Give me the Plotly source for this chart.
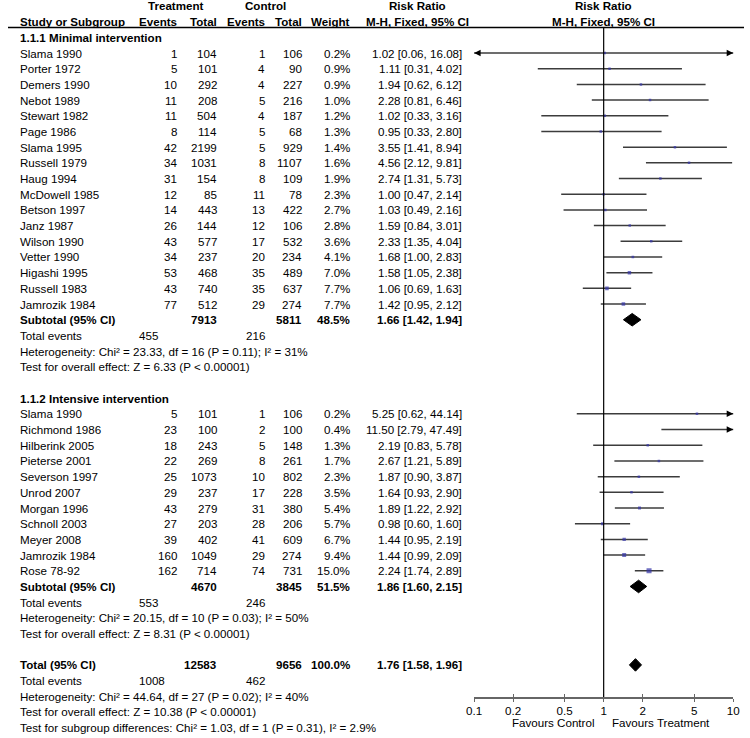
import plotly.graph_objects as go
import math

# ---------------- data ----------------
g1_name = "1.1.1 Minimal intervention"
g1_study = ["Slama 1990", "Porter 1972", "Demers 1990", "Nebot 1989", "Stewart 1982", "Page 1986",
            "Slama 1995", "Russell 1979", "Haug 1994", "McDowell 1985", "Betson 1997", "Janz 1987",
            "Wilson 1990", "Vetter 1990", "Higashi 1995", "Russell 1983", "Jamrozik 1984"]
g1_ev_t = [1, 5, 10, 11, 11, 8, 42, 34, 31, 12, 14, 26, 43, 34, 53, 43, 77]
g1_n_t = [104, 101, 292, 208, 504, 114, 2199, 1031, 154, 85, 443, 144, 577, 237, 468, 740, 512]
g1_ev_c = [1, 4, 4, 5, 4, 5, 5, 8, 8, 11, 13, 12, 17, 20, 35, 35, 29]
g1_n_c = [106, 90, 227, 216, 187, 68, 929, 1107, 109, 78, 422, 106, 532, 234, 489, 637, 274]
g1_w = [0.2, 0.9, 0.9, 1.0, 1.2, 1.3, 1.4, 1.6, 1.9, 2.3, 2.7, 2.8, 3.6, 4.1, 7.0, 7.7, 7.7]
g1_rr = [1.02, 1.11, 1.94, 2.28, 1.02, 0.95, 3.55, 4.56, 2.74, 1.00, 1.03, 1.59, 2.33, 1.68, 1.58, 1.06, 1.42]
g1_lo = [0.06, 0.31, 0.62, 0.81, 0.33, 0.33, 1.41, 2.12, 1.31, 0.47, 0.49, 0.84, 1.35, 1.00, 1.05, 0.69, 0.95]
g1_hi = [16.08, 4.02, 6.12, 6.46, 3.16, 2.80, 8.94, 9.81, 5.73, 2.14, 2.16, 3.01, 4.04, 2.83, 2.38, 1.63, 2.12]
g1_sub = dict(n_t=7913, n_c=5811, w="48.5%", rr=1.66, lo=1.42, hi=1.94, ev_t=455, ev_c=216,
              het="Heterogeneity: Chi² = 23.33, df = 16 (P = 0.11); I² = 31%",
              test="Test for overall effect: Z = 6.33 (P &lt; 0.00001)")

g2_name = "1.1.2 Intensive intervention"
g2_study = ["Slama 1990", "Richmond 1986", "Hilberink 2005", "Pieterse 2001", "Severson 1997", "Unrod 2007",
            "Morgan 1996", "Schnoll 2003", "Meyer 2008", "Jamrozik 1984", "Rose 78-92"]
g2_ev_t = [5, 23, 18, 22, 25, 29, 43, 27, 39, 160, 162]
g2_n_t = [101, 100, 243, 269, 1073, 237, 279, 203, 402, 1049, 714]
g2_ev_c = [1, 2, 5, 8, 10, 17, 31, 28, 41, 29, 74]
g2_n_c = [106, 100, 148, 261, 802, 228, 380, 206, 609, 274, 731]
g2_w = [0.2, 0.4, 1.3, 1.7, 2.3, 3.5, 5.4, 5.7, 6.7, 9.4, 15.0]
g2_rr = [5.25, 11.50, 2.19, 2.67, 1.87, 1.64, 1.89, 0.98, 1.44, 1.44, 2.24]
g2_lo = [0.62, 2.79, 0.83, 1.21, 0.90, 0.93, 1.22, 0.60, 0.95, 0.99, 1.74]
g2_hi = [44.14, 47.49, 5.78, 5.89, 3.87, 2.90, 2.92, 1.60, 2.19, 2.09, 2.89]
g2_sub = dict(n_t=4670, n_c=3845, w="51.5%", rr=1.86, lo=1.60, hi=2.15, ev_t=553, ev_c=246,
              het="Heterogeneity: Chi² = 20.15, df = 10 (P = 0.03); I² = 50%",
              test="Test for overall effect: Z = 8.31 (P &lt; 0.00001)")

tot = dict(n_t=12583, n_c=9656, w="100.0%", rr=1.76, lo=1.58, hi=1.96, ev_t=1008, ev_c=462,
           het="Heterogeneity: Chi² = 44.64, df = 27 (P = 0.02); I² = 40%",
           test="Test for overall effect: Z = 10.38 (P &lt; 0.00001)",
           sub="Test for subgroup differences: Chi² = 1.03, df = 1 (P = 0.31), I² = 2.9%")

tick_vals = [0.1, 0.2, 0.5, 1, 2, 5, 10]
tick_text = ["0.1", "0.2", "0.5", "1", "2", "5", "10"]
x_min, x_max = 0.1, 10

# ---------------- layout constants ----------------
W, H = 750, 738
ROW_PX = 15.69
ROW2_PX = 53.0         # pixel of row index 2
FONT = "Liberation Sans, Arial, sans-serif"
FS = 11.6
COL = dict(name=10, ev_t=174, n_t=215, ev_c=264, n_c=302, w=351, rr=465,
           tot_ev_t=131, treat_c=171, ctrl_c=262, rrhdr_c=417, plot_c=607,
           fav_l=599, fav_r=613)
PLOT_L, PLOT_R = 475, 739
AXIS_PX = 697
HLINE_PX = 27.5

def row_of_px(p):
    return 2 + (p - ROW2_PX) / ROW_PX

y_top = row_of_px(0)
y_bot = row_of_px(H)

annotations = []

def txt(text, xpx, row, anchor="left", bold=False):
    annotations.append(dict(
        text=f"<b>{text}</b>" if bold else text,
        x=xpx / W, xref="paper", y=row, yref="y",
        xanchor=anchor, yanchor="middle", showarrow=False,
        font=dict(family=FONT, size=FS, color="black")))

def fmt_rr(rr, lo, hi):
    return f"{rr:.2f} [{lo:.2f}, {hi:.2f}]"

# headers
txt("Treatment", COL["treat_c"], -1, "center", True)
txt("Control", COL["ctrl_c"], -1, "center", True)
txt("Risk Ratio", COL["rrhdr_c"], -1, "center", True)
txt("Risk Ratio", COL["plot_c"], -1, "center", True)
txt("Study or Subgroup", COL["name"], 0, "left", True)
txt("Events", COL["ev_t"], 0, "right", True)
txt("Total", COL["n_t"], 0, "right", True)
txt("Events", COL["ev_c"], 0, "right", True)
txt("Total", COL["n_c"], 0, "right", True)
txt("Weight", COL["w"], 0, "right", True)
txt("M-H, Fixed, 95% CI", COL["rrhdr_c"], 0, "center", True)
txt("M-H, Fixed, 95% CI", COL["plot_c"], 0, "center", True)

fig = go.Figure()

ci_color = "#3c3c3c"
sq_color = "#3535a8"

def add_summary(label, s, r):
    txt(label, COL["name"], r, "left", True)
    txt(str(s["n_t"]), COL["n_t"], r, "right", True)
    txt(str(s["n_c"]), COL["n_c"], r, "right", True)
    txt(s["w"], COL["w"], r, "right", True)
    txt(fmt_rr(s["rr"], s["lo"], s["hi"]), COL["rr"], r, "right", True)
    txt("Total events", COL["name"], r + 1)
    txt(str(s["ev_t"]), COL["tot_ev_t"], r + 1, "left")
    txt(str(s["ev_c"]), COL["ev_c"], r + 1, "right")
    hh = 0.40
    fig.add_trace(go.Scatter(x=[s["lo"], s["rr"], s["hi"], s["rr"], s["lo"]],
                             y=[r, r - hh, r, r + hh, r], mode="lines", fill="toself",
                             fillcolor="black", line=dict(color="black", width=1),
                             hoverinfo="skip", showlegend=False))

def add_group(name, study, ev_t, n_t, ev_c, n_c, w, rr, lo, hi, sub, start_row):
    txt(name, COL["name"], start_row, "left", True)
    rows = []
    for k in range(len(study)):
        r = start_row + 1 + k
        rows.append(r)
        txt(study[k], COL["name"], r)
        txt(str(ev_t[k]), COL["ev_t"], r, "right")
        txt(str(n_t[k]), COL["n_t"], r, "right")
        txt(str(ev_c[k]), COL["ev_c"], r, "right")
        txt(str(n_c[k]), COL["n_c"], r, "right")
        txt(f"{w[k]:.1f}%", COL["w"], r, "right")
        txt(fmt_rr(rr[k], lo[k], hi[k]), COL["rr"], r, "right")
        fig.add_trace(go.Scatter(x=[lo[k], hi[k]], y=[r, r], mode="lines",
                                 line=dict(color=ci_color, width=1.5), hoverinfo="skip", showlegend=False))
        if hi[k] > x_max:
            fig.add_trace(go.Scatter(x=[x_max], y=[r], mode="markers", cliponaxis=False,
                                     marker=dict(symbol="arrow-right", size=6.5, color="black",
                                                 line=dict(width=0)),
                                     hoverinfo="skip", showlegend=False))
        if lo[k] < x_min:
            fig.add_trace(go.Scatter(x=[x_min], y=[r], mode="markers", cliponaxis=False,
                                     marker=dict(symbol="arrow-left", size=6.5, color="black",
                                                 line=dict(width=0)),
                                     hoverinfo="skip", showlegend=False))
    fig.add_trace(go.Scatter(x=rr, y=rows, mode="markers",
                             marker=dict(symbol="square", color=sq_color,
                                         size=[max(2.5, 1.3 * math.sqrt(v)) for v in w], line=dict(width=0)),
                             hoverinfo="skip", showlegend=False))
    sr = start_row + 1 + len(study)
    add_summary("Subtotal (95% CI)", sub, sr)
    txt(sub["het"], COL["name"], sr + 2)
    txt(sub["test"], COL["name"], sr + 3)
    return sr + 3

end1 = add_group(g1_name, g1_study, g1_ev_t, g1_n_t, g1_ev_c, g1_n_c, g1_w, g1_rr, g1_lo, g1_hi, g1_sub, 1)
end2 = add_group(g2_name, g2_study, g2_ev_t, g2_n_t, g2_ev_c, g2_n_c, g2_w, g2_rr, g2_lo, g2_hi, g2_sub, end1 + 2)
tr = end2 + 2
add_summary("Total (95% CI)", tot, tr)
txt(tot["het"], COL["name"], tr + 2)
txt(tot["test"], COL["name"], tr + 3)
txt(tot["sub"], COL["name"], tr + 4)

fav_row = row_of_px(722)
txt("Favours Control", COL["fav_l"], fav_row, "right")
txt("Favours Treatment", COL["fav_r"], fav_row, "left")

shapes = [
    dict(type="line", xref="paper", yref="y", x0=0, x1=1, y0=row_of_px(HLINE_PX), y1=row_of_px(HLINE_PX),
         line=dict(color="black", width=1.3)),
    dict(type="line", xref="x", yref="y", x0=1, x1=1, y0=row_of_px(HLINE_PX), y1=row_of_px(AXIS_PX),
         line=dict(color="black", width=1.2)),
]

axis_pos = 1 - AXIS_PX / H
fig.update_layout(
    width=W, height=H, margin=dict(l=0, r=0, t=0, b=0),
    paper_bgcolor="white", plot_bgcolor="rgba(0,0,0,0)",
    showlegend=False, annotations=annotations, shapes=shapes,
    xaxis=dict(type="log", domain=[PLOT_L / W, PLOT_R / W], range=[math.log10(x_min), math.log10(x_max)],
               anchor="free", position=axis_pos, showline=True, linecolor="#666", linewidth=1.5,
               ticks="outside", ticklen=3, tickwidth=1.2, tickcolor="#666",
               tickvals=tick_vals, ticktext=tick_text, showgrid=False, zeroline=False,
               tickfont=dict(family=FONT, size=FS, color="black")),
    xaxis2=dict(type="log", domain=[PLOT_L / W, PLOT_R / W], range=[math.log10(x_min), math.log10(x_max)],
                anchor="free", position=axis_pos, overlaying="x", showline=False,
                ticks="inside", ticklen=3, tickwidth=1.2, tickcolor="#666",
                tickvals=tick_vals, showticklabels=False, showgrid=False, zeroline=False),
    yaxis=dict(range=[y_bot, y_top], domain=[0, 1], visible=False, showgrid=False, zeroline=False),
)
fig.add_trace(go.Scatter(x=[1], y=[0], xaxis="x2", mode="markers", marker=dict(opacity=0),
                         hoverinfo="skip", showlegend=False))

fig.write_html("out.html", config={"staticPlot": True},
               post_script="document.body.style.margin='0px';document.body.style.overflow='hidden';")
